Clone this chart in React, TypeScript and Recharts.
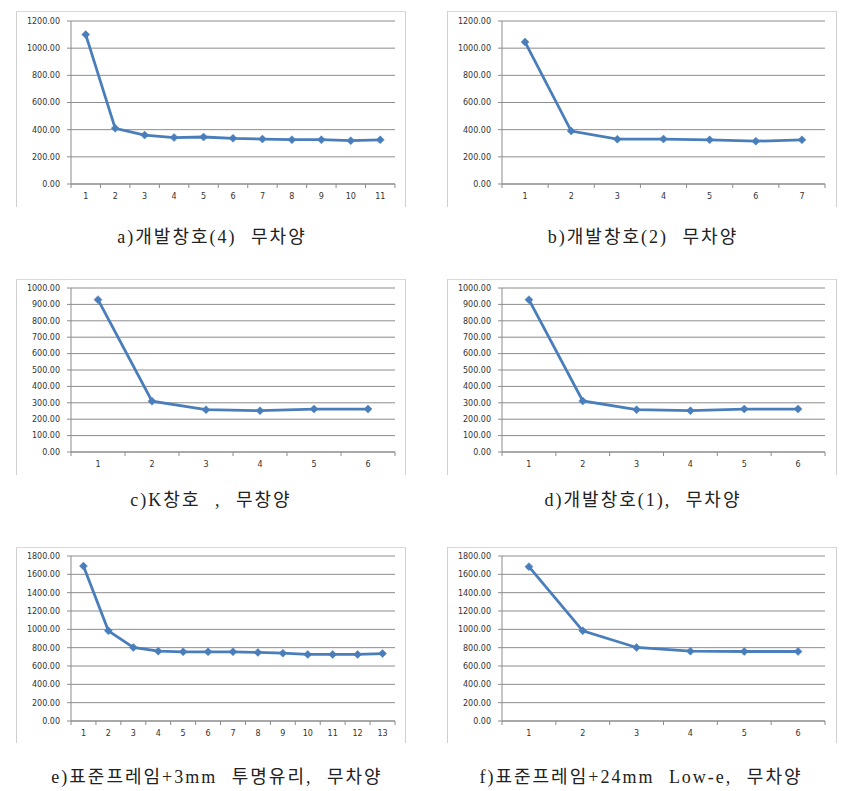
import React from 'react';
import { LineChart, Line, XAxis, YAxis, CartesianGrid } from 'recharts';

// values, one list per panel
const seriesA = [1100, 410, 360, 342, 346, 336, 331, 326, 326, 319, 325];
const seriesB = [1045, 390, 330, 331, 325, 315, 325];
const seriesC = [929, 310, 258, 252, 262, 262];
const seriesD = [929, 311, 258, 252, 262, 262];
const seriesE = [1690, 984, 802, 762, 755, 755, 755, 748, 740, 726, 726, 726, 736];
const seriesF = [1684, 984, 802, 762, 758, 758];

const ticks1200 = [0, 200, 400, 600, 800, 1000, 1200];
const ticks1000 = [0, 100, 200, 300, 400, 500, 600, 700, 800, 900, 1000];
const ticks1800 = [0, 200, 400, 600, 800, 1000, 1200, 1400, 1600, 1800];

const titles = [
  'a)개발창호(4) 무차양',
  'b)개발창호(2) 무차양',
  'c)K창호 , 무창양',
  'd)개발창호(1), 무차양',
  'e)표준프레임+3mm 투명유리, 무차양',
  'f)표준프레임+24mm Low-e, 무차양',
];

const LINE = '#4a7ebb';
const GRID = '#8c8c8c';
const AXIS_FONT = '"DejaVu Sans", sans-serif';

const Diamond = (props: any) => {
  const { cx, cy } = props;
  if (cx == null || cy == null) return null;
  const r = 4;
  return (
    <path
      d={`M${cx},${cy - r}L${cx + r},${cy}L${cx},${cy + r}L${cx - r},${cy}Z`}
      fill={LINE}
      stroke={LINE}
      strokeWidth={0.5}
    />
  );
};

// excel style category axis: labels at integers, tick marks between them
const XTick = (props: any) => {
  const { x, y, payload } = props;
  const v = payload.value;
  if (Math.abs(v - Math.round(v)) > 0.01) {
    return <line x1={x} x2={x} y1={y} y2={y + 4} stroke={GRID} strokeWidth={1} />;
  }
  return (
    <text x={x} y={y + 15} textAnchor="middle" fontSize={8} fontFamily={AXIS_FONT} fill="#333">
      {v}
    </text>
  );
};

interface PanelProps {
  values: number[];
  yTicks: number[];
  frameLeft: number;
  frameTop: number;
  plotLeft: number;
  plotRight: number;
  plotTop: number;
  plotBottom: number;
  title: string;
  titleX: number;
  titleY: number;
}

function Panel({
  values,
  yTicks,
  frameLeft,
  frameTop,
  plotLeft,
  plotRight,
  plotTop,
  plotBottom,
  title,
  titleX,
  titleY,
}: PanelProps) {
  const W = 390;
  const H = 195;
  const data = values.map((v, i) => ({ x: i + 1, value: v }));
  const n = values.length;
  const xTicks: number[] = [];
  for (let i = 0; i <= n; i++) {
    xTicks.push(i + 0.5);
    if (i < n) xTicks.push(i + 1);
  }
  return (
    <>
      <div
        style={{
          position: 'absolute',
          left: frameLeft,
          top: frameTop,
          width: W - 2,
          height: H,
          borderTop: '1px solid #d9d9d9',
          borderLeft: '1px solid #d0d0d0',
          borderRight: '1px solid #d0d0d0',
        }}
      />
      <div style={{ position: 'absolute', left: frameLeft, top: frameTop }}>
        <LineChart
          width={W}
          height={H}
          data={data}
          margin={{
            top: plotTop - frameTop,
            right: frameLeft + W - plotRight,
            left: 0,
            bottom: 0,
          }}
        >
          <CartesianGrid vertical={false} stroke={GRID} strokeWidth={1} />
          <XAxis
            dataKey="x"
            type="number"
            domain={[0.5, n + 0.5]}
            ticks={xTicks}
            interval={0}
            height={frameTop + H - plotBottom}
            tickLine={false}
            tickSize={0}
            tickMargin={0}
            axisLine={{ stroke: GRID }}
            tick={<XTick />}
          />
          <YAxis
            type="number"
            domain={[0, yTicks[yTicks.length - 1]]}
            ticks={yTicks}
            interval={0}
            width={plotLeft - frameLeft}
            tickSize={4}
            tickMargin={7}
            axisLine={{ stroke: GRID }}
            tickLine={{ stroke: GRID }}
            tick={{ fontSize: 8, fontFamily: AXIS_FONT, fill: '#333' }}
            tickFormatter={(v: number) => v.toFixed(2)}
          />
          <Line
            type="linear"
            dataKey="value"
            stroke={LINE}
            strokeWidth={2.8}
            dot={<Diamond />}
            activeDot={false}
            isAnimationActive={false}
          />
        </LineChart>
      </div>
      <div
        style={{
          position: 'absolute',
          left: titleX - 220,
          top: titleY - 11,
          width: 440,
          textAlign: 'center',
          fontFamily: '"Liberation Serif", "Noto Sans CJK KR", serif',
          fontSize: 18,
          lineHeight: '22px',
          letterSpacing: 2,
          wordSpacing: 8,
          color: '#222',
          whiteSpace: 'pre',
        }}
      >
        {title}
      </div>
    </>
  );
}

export default function App() {
  return (
    <div
      style={{
        position: 'absolute',
        left: 0,
        top: 0,
        width: 850,
        height: 791,
        background: '#fff',
        overflow: 'hidden',
      }}
    >
      <Panel values={seriesA} yTicks={ticks1200} frameLeft={16} frameTop={11}
        plotLeft={71} plotRight={395} plotTop={21} plotBottom={184}
        title={titles[0]} titleX={212} titleY={237} />
      <Panel values={seriesB} yTicks={ticks1200} frameLeft={447} frameTop={11}
        plotLeft={502} plotRight={825} plotTop={21} plotBottom={184}
        title={titles[1]} titleX={643} titleY={237} />
      <Panel values={seriesC} yTicks={ticks1000} frameLeft={16} frameTop={279}
        plotLeft={71} plotRight={395} plotTop={288} plotBottom={452}
        title={titles[2]} titleX={211} titleY={500} />
      <Panel values={seriesD} yTicks={ticks1000} frameLeft={447} frameTop={279}
        plotLeft={502} plotRight={825} plotTop={288} plotBottom={452}
        title={titles[3]} titleX={643} titleY={500} />
      <Panel values={seriesE} yTicks={ticks1800} frameLeft={16} frameTop={547}
        plotLeft={71} plotRight={395} plotTop={556} plotBottom={721}
        title={titles[4]} titleX={217} titleY={777} />
      <Panel values={seriesF} yTicks={ticks1800} frameLeft={447} frameTop={547}
        plotLeft={502} plotRight={825} plotTop={556} plotBottom={721}
        title={titles[5]} titleX={641} titleY={777} />
    </div>
  );
}
